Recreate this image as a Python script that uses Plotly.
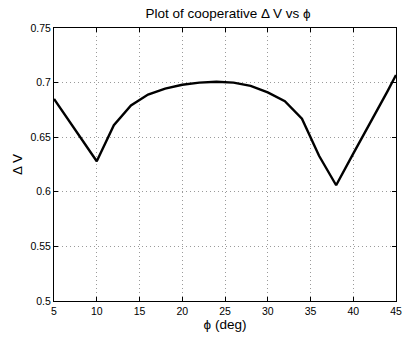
import plotly.graph_objects as go

# Cooperative delta-V as a function of the angle phi (degrees)
phi_deg = [5, 10, 12, 14, 16, 18, 20, 22, 24, 26, 28, 30, 32, 34, 36, 38, 40, 42, 44, 45]
delta_v = [0.685, 0.628, 0.661, 0.679, 0.689, 0.6945, 0.698, 0.7, 0.7008, 0.7,
           0.697, 0.691, 0.683, 0.667, 0.633, 0.606, 0.635, 0.663, 0.692, 0.707]

x_ticks = [5, 10, 15, 20, 25, 30, 35, 40, 45]
y_ticks = [0.5, 0.55, 0.6, 0.65, 0.7, 0.75]
y_tick_text = ["0.5", "0.55", "0.6", "0.65", "0.7", "0.75"]

font_family = "Liberation Sans, Arial, Helvetica, sans-serif"

fig = go.Figure()
fig.add_trace(go.Scatter(
    x=phi_deg, y=delta_v, mode="lines",
    line=dict(color="black", width=2.4),
    showlegend=False,
))

axis_common = dict(
    showline=True, linecolor="black", linewidth=1, mirror="ticks",
    ticks="inside", ticklen=4, tickcolor="black",
    showgrid=True, gridcolor="#9a9a9a", gridwidth=1, griddash="1px,3px",
    zeroline=False,
    ticklabeloverflow="allow",
    tickfont=dict(family=font_family, size=10.5, color="black"),
)

fig.update_xaxes(
    range=[5, 45], tickvals=x_ticks, ticktext=[str(v) for v in x_ticks],
    title=dict(text="ϕ (deg)", font=dict(family=font_family, size=13.5, color="black"), standoff=0),
    **axis_common,
)
fig.update_yaxes(
    range=[0.5, 0.75], tickvals=y_ticks, ticktext=y_tick_text,
    title=dict(text="Δ V", font=dict(family=font_family, size=13.5, color="black"), standoff=4),
    **axis_common,
)

fig.update_layout(
    width=406, height=337,
    margin=dict(l=54, r=4, t=28, b=36),
    paper_bgcolor="white", plot_bgcolor="white",
    title=dict(
        text="Plot of cooperative Δ V vs ϕ",
        font=dict(family=font_family, size=13.5, color="black"),
        x=(54.5 + 401.7) / 2 / 406, xanchor="center",
        y=1 - 13 / 337, yanchor="middle", yref="container",
    ),
)

fig.write_html("out.html")
